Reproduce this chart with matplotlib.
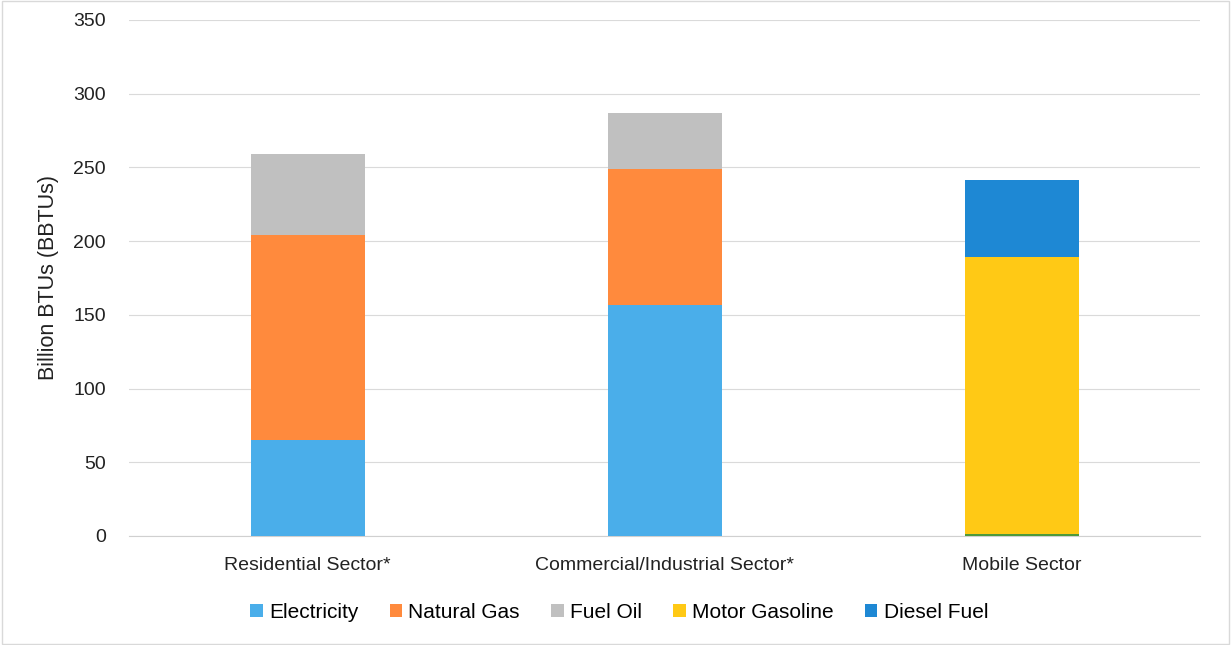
#!/usr/bin/env python3
"""Stacked energy-use bars by sector, in billion BTUs."""
import matplotlib

matplotlib.use("Agg")
import matplotlib.pyplot as plt
import numpy as np

SECTORS = ["Residential Sector*", "Commercial/Industrial Sector*", "Mobile Sector"]

# billion BTUs per fuel, one value per sector
OTHER_MOBILE = [0.0, 0.0, 1.5]
ELECTRICITY = [65.0, 157.0, 0.0]
NATURAL_GAS = [139.0, 92.0, 0.0]
FUEL_OIL = [55.0, 38.0, 0.0]
MOTOR_GASOLINE = [0.0, 0.0, 188.0]
DIESEL_FUEL = [0.0, 0.0, 52.0]

Y_TICKS = [0, 50, 100, 150, 200, 250, 300, 350]

SERIES = [
    ("_other", OTHER_MOBILE, "#4E9A3A"),
    ("Electricity", ELECTRICITY, "#4AAEEA"),
    ("Natural Gas", NATURAL_GAS, "#FF8A3D"),
    ("Fuel Oil", FUEL_OIL, "#C0C0C0"),
    ("Motor Gasoline", MOTOR_GASOLINE, "#FFC915"),
    ("Diesel Fuel", DIESEL_FUEL, "#1E88D4"),
]

plt.rcParams["font.family"] = ["Liberation Sans", "DejaVu Sans"]


def main() -> None:
    fig = plt.figure(figsize=(12.31, 6.45), dpi=100)
    ax = fig.add_axes([0.105, 0.169, 0.87, 0.8])

    x = np.arange(len(SECTORS))
    bottom = np.zeros(len(SECTORS))
    for name, vals, color in SERIES:
        vals = np.array(vals)
        ax.bar(x, vals, width=0.32, bottom=bottom, color=color, label=name, zorder=3)
        bottom += vals

    ax.set_xlim(-0.5, len(SECTORS) - 0.5)
    ax.set_ylim(0, 350)
    ax.set_yticks(Y_TICKS)
    ax.set_xticks(x)
    ax.set_xticklabels(SECTORS)
    ax.tick_params(axis="both", length=0, labelsize=14, colors="#222222")
    ax.tick_params(axis="x", pad=15)
    ax.tick_params(axis="y", pad=17)
    ax.grid(axis="y", color="#DADADA", lw=0.8, zorder=0)
    for side in ("top", "right", "left"):
        ax.spines[side].set_visible(False)
    ax.spines["bottom"].set_color("#D0D0D0")
    ax.set_ylabel("Billion BTUs (BBTUs)", fontsize=15.5, color="#222222", labelpad=10)

    # legend sits centred on the figure rather than the plot area
    handles, labels = ax.get_legend_handles_labels()
    keep = [(h, l) for h, l in zip(handles, labels) if not l.startswith("_")]
    fig.legend(
        [h for h, _ in keep],
        [l for _, l in keep],
        loc="center",
        bbox_to_anchor=(0.503, 0.051),
        ncol=5,
        frameon=False,
        fontsize=15,
        handlelength=0.6,
        handleheight=0.6,
        handletextpad=0.3,
        columnspacing=1.5,
    )

    # thin frame around the whole chart area
    fig.patches.append(
        plt.Rectangle((0.002, 0.002), 0.996, 0.996, transform=fig.transFigure,
                      fill=False, edgecolor="#D9D9D9", lw=1)
    )

    fig.savefig("out.png", dpi=100)
    plt.close(fig)


if __name__ == "__main__":
    main()
